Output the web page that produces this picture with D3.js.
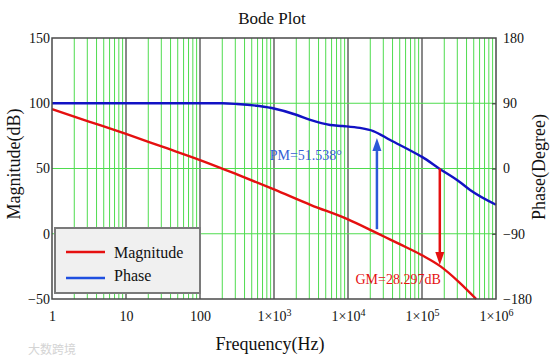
<!DOCTYPE html>
<html>
<head>
<meta charset="utf-8">
<script src="https://cdn.jsdelivr.net/npm/d3@7"></script>
<style>
  body { margin: 0; background: #fff; }
  svg text { font-family: "Liberation Serif", "DejaVu Serif", serif !important; }
  svg text.wm { font-family: "Noto Sans CJK SC", sans-serif !important; }
</style>
</head>
<body>
<div id="chart"></div>
<script>
// values
const magFreq = [1, 3.16, 10, 31.6, 100, 316, 1000, 3162, 1e4, 2e4, 3.16e4, 5e4, 1e5, 1.78e5, 3.16e5, 5.4e5];
const magDb   = [95.5, 86, 76.5, 66.5, 56.5, 45.5, 34, 22, 11, 3, -2.5, -8, -16.5, -25, -37, -50];

const phaseFreq = [1, 10, 100, 200, 316, 933, 2040, 3090, 5750, 8500, 14450, 21900, 37150, 85100, 1e5, 170000, 323600, 446700, 1e6];
const phaseDeg  = [90, 90, 90, 90, 89, 83.4, 73.8, 67, 60, 58.6, 56, 51.7, 39.3, 20, 16, 0, -18.6, -29.7, -50];

const magTicks = [-50, 0, 50, 100, 150];
const magGrid = [0, 50, 100];
const phaseTicks = [-180, -90, 0, 90, 180];
const freqTicks = [1, 10, 100, 1e3, 1e4, 1e5, 1e6];

const pmFreq = 24600, pmFrom = 3.5, pmTo = 42, pmLabel = "PM=51.538\u00b0";
const gmFreq = 174000, gmFrom = 0, gmTo = -24, gmLabel = "GM=28.297dB";

const seriesNames = ["Magnitude", "Phase"];

const W = 555, H = 361;
const margin = {left: 52, top: 38, right: 59, bottom: 62};
const serif = '"Liberation Serif", "DejaVu Serif", serif';

const svg = d3.select("#chart").append("svg")
    .attr("width", W).attr("height", H)
    .attr("font-family", serif);

const x = d3.scaleLog().domain([1, 1e6]).range([margin.left, W - margin.right]);
const yMag = d3.scaleLinear().domain([-50, 150]).range([H - margin.bottom, margin.top]);
const yPh = d3.scaleLinear().domain([-180, 180]).range([H - margin.bottom, margin.top]);

const green = "#4fdc4f", dark = "#4a4a4a";
const redCol = "#e51010", blueCol = "#1212c4";

// grid: minor decades in green, decades in dark
const grid = svg.append("g");
x.ticks().forEach(function (t) {
    if (t <= 1 || t >= 1e6) return;
    const isDecade = Math.abs(Math.log10(t) - Math.round(Math.log10(t))) < 1e-9;
    grid.append("line")
        .attr("x1", x(t)).attr("x2", x(t))
        .attr("y1", yMag(150)).attr("y2", yMag(-50))
        .attr("stroke", isDecade ? dark : green)
        .attr("stroke-width", isDecade ? 1.3 : 1);
});
magGrid.forEach(function (v) {
    grid.append("line")
        .attr("x1", x(1)).attr("x2", x(1e6))
        .attr("y1", yMag(v)).attr("y2", yMag(v))
        .attr("stroke", green).attr("stroke-width", 1);
});

// curves
const magData = magFreq.map((f, i) => ({f: f, v: magDb[i]}));
const phData = phaseFreq.map((f, i) => ({f: f, v: phaseDeg[i]}));

svg.append("path").datum(phData)
    .attr("d", d3.line().x(d => x(d.f)).y(d => yPh(d.v)).curve(d3.curveMonotoneX))
    .attr("fill", "none").attr("stroke", blueCol).attr("stroke-width", 2.4);
svg.append("path").datum(magData)
    .attr("d", d3.line().x(d => x(d.f)).y(d => yMag(d.v)).curve(d3.curveMonotoneX))
    .attr("fill", "none").attr("stroke", redCol).attr("stroke-width", 2.4);

// frame
svg.append("rect")
    .attr("x", x(1)).attr("y", yMag(150))
    .attr("width", x(1e6) - x(1)).attr("height", yMag(-50) - yMag(150))
    .attr("fill", "none").attr("stroke", dark).attr("stroke-width", 1.5);

// axes
const leftAxis = svg.append("g")
    .attr("transform", "translate(" + x(1) + ",0)")
    .call(d3.axisLeft(yMag).tickValues(magTicks).tickSize(0).tickPadding(2));
const rightAxis = svg.append("g")
    .attr("transform", "translate(" + x(1e6) + ",0)")
    .call(d3.axisRight(yPh).tickValues(phaseTicks).tickSizeInner(-4).tickSizeOuter(0).tickPadding(7));
const bottomAxis = svg.append("g")
    .attr("transform", "translate(0," + yMag(-50) + ")")
    .call(d3.axisBottom(x).tickValues(freqTicks).tickSize(0).tickPadding(12).tickFormat(""));

[leftAxis, rightAxis, bottomAxis].forEach(function (a) {
    a.attr("font-family", serif).attr("font-size", 14);
    a.select(".domain").remove();
    a.selectAll("text").attr("fill", "#111");
    a.selectAll(".tick line").attr("stroke", dark).attr("stroke-width", 1.3);
});
rightAxis.selectAll(".tick").filter(d => d === 180 || d === -180).select("line").remove();

bottomAxis.selectAll(".tick text").each(function (d) {
    const t = d3.select(this);
    const p = Math.round(Math.log10(d));
    if (p < 3) {
        t.text(String(d));
    } else {
        t.text("1\u00d710");
        t.append("tspan").attr("font-size", 10).attr("dy", -5).text(p);
    }
});

// margin arrows
function arrow(xv, yTail, yTip, color) {
    const dir = yTip < yTail ? 1 : -1;
    const head = 13, half = 4.5;
    svg.append("line")
        .attr("x1", xv).attr("x2", xv)
        .attr("y1", yTail).attr("y2", yTip + dir * head)
        .attr("stroke", color).attr("stroke-width", 2.5);
    svg.append("path")
        .attr("d", "M" + xv + "," + yTip + "L" + (xv - half) + "," + (yTip + dir * head) +
             "L" + (xv + half) + "," + (yTip + dir * head) + "Z")
        .attr("fill", color);
}
arrow(x(pmFreq), yMag(pmFrom), yPh(pmTo), "#2c5ad8");
arrow(x(gmFreq), yPh(gmFrom), yMag(gmTo), redCol);

svg.append("text")
    .attr("x", x(pmFreq) - 35).attr("y", 160)
    .attr("text-anchor", "end").attr("font-size", 14).attr("fill", "#3560d4")
    .text(pmLabel);
svg.append("text")
    .attr("x", x(gmFreq) + 1).attr("y", 284)
    .attr("text-anchor", "end").attr("font-size", 14).attr("fill", redCol)
    .text(gmLabel);

// legend
const legend = svg.append("g");
legend.append("rect")
    .attr("x", 55).attr("y", 228).attr("width", 145).attr("height", 65)
    .attr("fill", "#f0f0f0").attr("stroke", "#7a7a7a").attr("stroke-width", 2);
[redCol, "#1f4fe0"].forEach(function (c, i) {
    legend.append("line")
        .attr("x1", 66).attr("x2", 105)
        .attr("y1", 252 + i * 26).attr("y2", 252 + i * 26)
        .attr("stroke", c).attr("stroke-width", 2.5);
    legend.append("text")
        .attr("x", 114).attr("y", 258 + i * 23)
        .attr("font-size", 16).attr("fill", "#111")
        .text(seriesNames[i]);
});

// titles
svg.append("text")
    .attr("x", 272).attr("y", 24).attr("text-anchor", "middle")
    .attr("font-size", 17).attr("fill", "#111").text("Bode Plot");
svg.append("text")
    .attr("x", 270).attr("y", 350).attr("text-anchor", "middle")
    .attr("font-size", 18).attr("fill", "#111").text("Frequency(Hz)");
svg.append("text")
    .attr("transform", "translate(20,164) rotate(-90)").attr("text-anchor", "middle")
    .attr("font-size", 18).attr("fill", "#111").text("Magnitude(dB)");
svg.append("text")
    .attr("transform", "translate(545,167) rotate(-90)").attr("text-anchor", "middle")
    .attr("font-size", 18).attr("fill", "#111").text("Phase(Degree)");

// faint watermark
svg.append("text")
    .attr("class", "wm")
    .attr("x", 28).attr("y", 354)
    .attr("font-size", 12).attr("fill", "#d4d4d4")
    .text("大数跨境");
</script>
</body>
</html>
